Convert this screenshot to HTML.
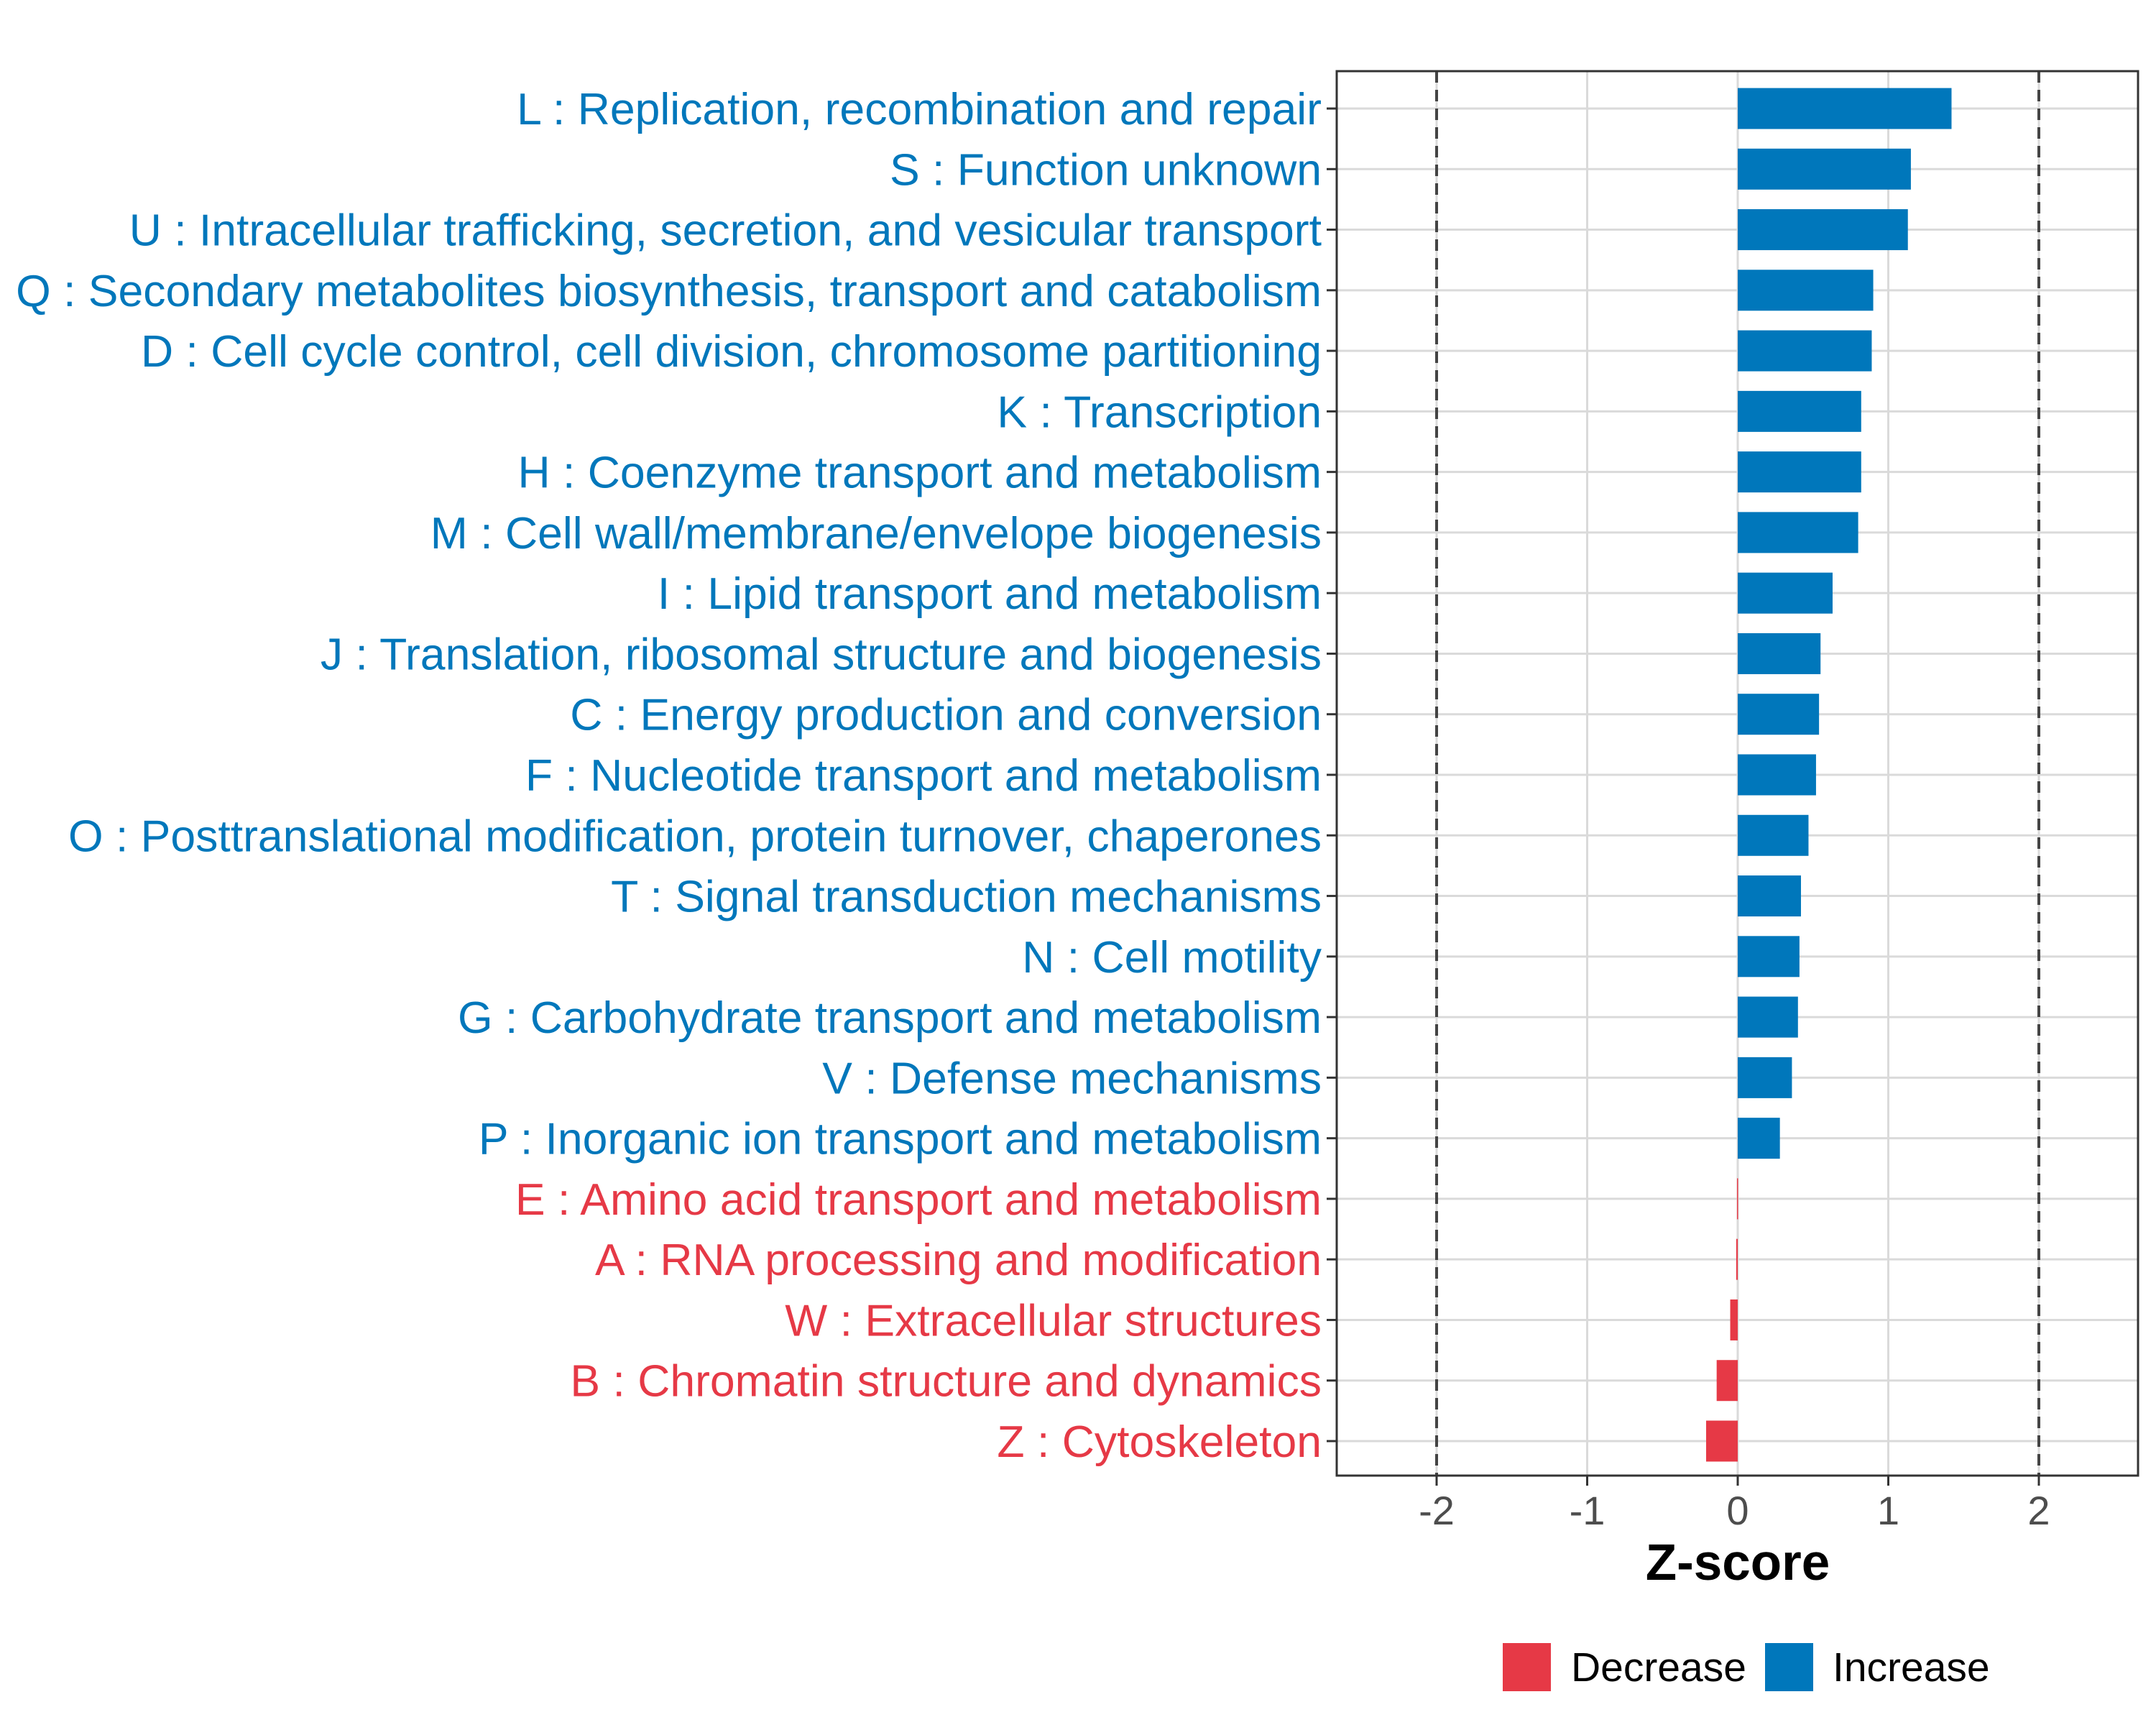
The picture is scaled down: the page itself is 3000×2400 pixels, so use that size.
<!DOCTYPE html>
<html><head><meta charset="utf-8"><style>
html,body{margin:0;padding:0;background:#fff}
svg{display:block;font-family:"Liberation Sans",sans-serif}
</style></head><body>
<svg id="chart" width="3000" height="2400" viewBox="0 0 3000 2400" xmlns="http://www.w3.org/2000/svg">
<g id="grid"></g>
<g id="bars"></g>
<g id="ylabels"></g>
<g id="xaxis"></g>
<text x="2418" y="2198" font-size="71" font-weight="bold" text-anchor="middle">Z-score</text>
<g>
<rect x="2091" y="2286" width="67" height="67" fill="#E63946"/>
<text x="2186" y="2339" font-size="57" fill="#000">Decrease</text>
<rect x="2456" y="2286" width="67" height="67" fill="#0077BB"/>
<text x="2550" y="2339" font-size="57" fill="#000">Increase</text>
</g>
</svg>
<script>
const categories=["L : Replication, recombination and repair","S : Function unknown","U : Intracellular trafficking, secretion, and vesicular transport","Q : Secondary metabolites biosynthesis, transport and catabolism","D : Cell cycle control, cell division, chromosome partitioning","K : Transcription","H : Coenzyme transport and metabolism","M : Cell wall/membrane/envelope biogenesis","I : Lipid transport and metabolism","J : Translation, ribosomal structure and biogenesis","C : Energy production and conversion","F : Nucleotide transport and metabolism","O : Posttranslational modification, protein turnover, chaperones","T : Signal transduction mechanisms","N : Cell motility","G : Carbohydrate transport and metabolism","V : Defense mechanisms","P : Inorganic ion transport and metabolism","E : Amino acid transport and metabolism","A : RNA processing and modification","W : Extracellular structures","B : Chromatin structure and dynamics","Z : Cytoskeleton"];
const zscores=[1.42,1.15,1.13,0.9,0.89,0.82,0.82,0.8,0.63,0.55,0.54,0.52,0.47,0.42,0.41,0.4,0.36,0.28,-0.005,-0.01,-0.05,-0.14,-0.21];
const xTicks=[-2,-1,0,1,2];
const xTickLabels=["-2","-1","0","1","2"];
const dashedRefs=[-2,2];
const NS="http://www.w3.org/2000/svg";
const P={l:1860,r:2975,t:99,b:2053};
const x=v=>2418+v*209.5;
const y=i=>151+i*(2005-151)/22;
const bh=57;
function mk(tag,at,parent){const e=document.createElementNS(NS,tag);for(const k in at)e.setAttribute(k,at[k]);parent.appendChild(e);return e;}
const grid=document.getElementById('grid'),bars=document.getElementById('bars'),yl=document.getElementById('ylabels'),xa=document.getElementById('xaxis');
let bg=mk('rect',{x:P.l,y:P.t,width:P.r-P.l,height:P.b-P.t,fill:'#fff'},grid);


xTicks.forEach((t,i)=>{
 let g=mk('line',{x1:x(t),x2:x(t),y1:P.t,y2:P.b,stroke:'#dadada','stroke-width':3},grid);
 
 
 let tk=mk('line',{x1:x(t),x2:x(t),y1:P.b,y2:P.b+14,stroke:'#333','stroke-width':3},xa);
 
 
 let tl=mk('text',{x:x(t),y:P.b+68,'font-size':56,fill:'#4d4d4d','text-anchor':'middle'},xa);
 tl.textContent=xTickLabels[i];
 
 
});
categories.forEach((c,i)=>{
 let g=mk('line',{x1:P.l,x2:P.r,y1:y(i),y2:y(i),stroke:'#dadada','stroke-width':3},grid);
 
 
});
dashedRefs.forEach(v=>{
 let d=mk('line',{x1:x(v),x2:x(v),y1:P.t,y2:P.b,stroke:'#444','stroke-width':4,'stroke-dasharray':'16,10'},grid);
 
 
});
categories.forEach((c,i)=>{
 const v=zscores[i],col=v>=0?'#0077BB':'#E63946';
 let r=mk('rect',{x:Math.min(x(0),x(v)),y:y(i)-bh/2,width:Math.max(Math.abs(x(v)-x(0)),1.5),height:bh,fill:col},bars);
 
 
 let tk=mk('line',{x1:P.l-14,x2:P.l,y1:y(i),y2:y(i),stroke:'#333','stroke-width':3},yl);
 
 
 let t=mk('text',{x:1839,y:y(i)+22,'font-size':62.5,fill:col,'text-anchor':'end'},yl);
 t.textContent=c;
 
 
});
let br=mk('rect',{x:P.l,y:P.t,width:P.r-P.l,height:P.b-P.t,fill:'none',stroke:'#333','stroke-width':3},xa);


</script>
</body></html>
